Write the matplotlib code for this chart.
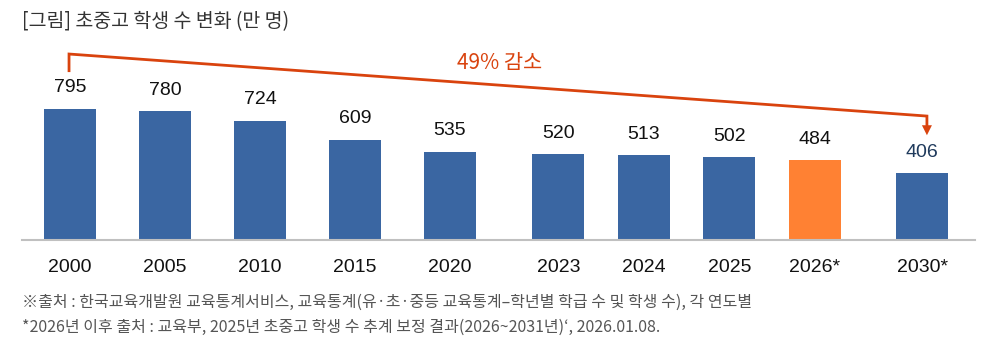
import matplotlib.pyplot as plt
from matplotlib.patches import FancyArrowPatch

# 데이터 (만 명)
years = ['2000', '2005', '2010', '2015', '2020', '2023', '2024', '2025', '2026*', '2030*']
students = [795, 780, 724, 609, 535, 520, 513, 502, 484, 406]
bar_colors = ['#3A66A2'] * 8 + ['#FF8133', '#3A66A2']
label_colors = ['#111111'] * 9 + ['#1F3A5C']

title = '[그림] 초중고 학생 수 변화 (만 명)'
note1 = '※출처 : 한국교육개발원 교육통계서비스, 교육통계(유·초·중등 교육통계–학년별 학급 수 및 학생 수), 각 연도별'
note2 = '*2026년 이후 출처 : 교육부, 2025년 초중고 학생 수 추계 보정 결과(2026~2031년)‘, 2026.01.08.'
drop_text = '49% 감소'

# 막대 위치 (구간별 간격이 다름)
pos = [0, 1, 2, 3, 4, 5.14, 6.04, 6.94, 7.84, 8.97]

kr = ['Noto Sans CJK KR', 'DejaVu Sans']
num = ['Liberation Sans', 'DejaVu Sans']
red = '#D9430E'

W, H = 988, 358
fig = plt.figure(figsize=(W / 100, H / 100), dpi=100)
# 축 영역: 기준선 y=240px, 좌 22px ~ 우 975px
ax = fig.add_axes([22 / W, (H - 240) / H, (975 - 22) / W, 200 / H])
ax.set_xlim(-0.505, 9.526)
ax.set_ylim(0, 1212)

ax.bar(pos, students, width=0.55, color=bar_colors, zorder=2)

for x, v, c in zip(pos, students, label_colors):
    ax.annotate(str(v), (x, v), xytext=(0, 15), textcoords='offset points',
                ha='center', va='center', fontsize=14, color=c, family=num)

for x, y in zip(pos, years):
    ax.text(x, -0.14, y, transform=ax.get_xaxis_transform(), ha='center', va='center',
            fontsize=14, color='#111111', family=num)

for s in ['top', 'right', 'left']:
    ax.spines[s].set_visible(False)
ax.spines['bottom'].set_color('#C0C0C0')
ax.spines['bottom'].set_linewidth(1.5)
ax.set_xticks([])
ax.set_yticks([])

# 감소 표시선
y_start, y_top_l, y_top_r, y_tip = 1026, 1127, 751, 618
x_l, x_r = pos[0] - 0.01, pos[-1] + 0.05
ax.plot([x_l, x_l, x_r, x_r], [y_start, y_top_l, y_top_r, y_tip + 60],
        color=red, lw=2, solid_joinstyle='miter', clip_on=False)
ax.add_patch(FancyArrowPatch((x_r, y_tip + 80), (x_r, y_tip), arrowstyle='-|>',
                             mutation_scale=18, color=red, lw=0, clip_on=False))
ax.text((pos[0] + pos[-1]) / 2 + 0.04, 1073, drop_text, ha='center', va='center',
        fontsize=15, color=red, family=kr)

fig.text(22 / W, 1 - 22 / H, title, ha='left', va='center', fontsize=14,
         color='#333333', family=kr)
fig.text(22 / W, 1 - 302 / H, note1, ha='left', va='center', fontsize=11.5,
         color='#555555', family=kr)
fig.text(22 / W, 1 - 327 / H, note2, ha='left', va='center', fontsize=11.5,
         color='#555555', family=kr)

plt.savefig('out.png', dpi=100)
